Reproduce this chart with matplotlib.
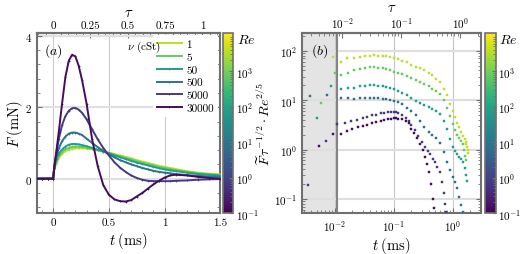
import numpy as np
import matplotlib.pyplot as plt
from matplotlib import ticker
from matplotlib.colors import LogNorm
import matplotlib.cm as cm

plt.rcParams.update({
    "font.family": "serif",
    "font.serif": ["cmr10"],
    "mathtext.fontset": "cm",
    "axes.formatter.use_mathtext": True,
    "axes.unicode_minus": False,
    "font.size": 8,
    "xtick.labelsize": 8,
    "ytick.labelsize": 8,
})

# viscosities and Reynolds numbers
nu = [1, 5, 50, 500, 5000, 30000]
Re = [3700, 740, 74, 7.4, 0.74, 0.14]
T0 = 1.34  # ms, tau = t / T0

# (a) force vs time
t_a = [-0.15, -0.1, -0.05, 0, 0.01, 0.03, 0.05, 0.08, 0.11, 0.14, 0.17, 0.2, 0.23, 0.26,
       0.3, 0.35, 0.4, 0.45, 0.5, 0.55, 0.6, 0.65, 0.7, 0.75, 0.8, 0.85, 0.9, 0.95, 1.0,
       1.05, 1.1, 1.2, 1.3, 1.4, 1.5]
F_1 = [0, 0, 0, 0, 0.25, 0.45, 0.58, 0.7, 0.77, 0.81, 0.83, 0.85, 0.85, 0.85, 0.84, 0.82,
       0.79, 0.76, 0.73, 0.69, 0.65, 0.61, 0.57, 0.52, 0.48, 0.44, 0.4, 0.36, 0.33, 0.3,
       0.27, 0.21, 0.17, 0.14, 0.12]
F_5 = [0, 0, 0, 0, 0.28, 0.5, 0.63, 0.75, 0.82, 0.86, 0.89, 0.9, 0.9, 0.89, 0.87, 0.84,
       0.8, 0.76, 0.72, 0.67, 0.63, 0.58, 0.54, 0.49, 0.45, 0.41, 0.37, 0.33, 0.3, 0.27,
       0.24, 0.19, 0.15, 0.12, 0.1]
F_50 = [0, 0, 0, 0, 0.3, 0.55, 0.7, 0.82, 0.9, 0.95, 0.97, 0.97, 0.96, 0.94, 0.91, 0.86,
        0.81, 0.76, 0.71, 0.65, 0.6, 0.55, 0.5, 0.45, 0.41, 0.37, 0.33, 0.29, 0.26, 0.23,
        0.21, 0.17, 0.13, 0.11, 0.09]
F_500 = [0, 0, 0, 0, 0.35, 0.65, 0.85, 1.05, 1.18, 1.26, 1.29, 1.29, 1.26, 1.22, 1.12, 1.0,
         0.88, 0.78, 0.68, 0.6, 0.52, 0.46, 0.4, 0.35, 0.3, 0.26, 0.22, 0.19, 0.17, 0.15,
         0.13, 0.1, 0.08, 0.06, 0.05]
F_5000 = [0, 0, 0, 0, 0.35, 0.75, 1.1, 1.5, 1.75, 1.9, 1.97, 1.98, 1.93, 1.84, 1.66, 1.38,
          1.1, 0.86, 0.65, 0.46, 0.31, 0.19, 0.09, 0.02, -0.03, -0.06, -0.07, -0.07, -0.07,
          -0.07, -0.06, -0.05, -0.03, -0.02, -0.01]
F_30000 = [0, 0, 0, 0, 0.3, 0.8, 1.3, 2.1, 2.85, 3.3, 3.47, 3.42, 3.15, 2.75, 2.1, 1.1,
           0.35, -0.18, -0.45, -0.58, -0.63, -0.64, -0.6, -0.5, -0.4, -0.28, -0.16, -0.06,
           0.03, 0.09, 0.11, 0.09, 0.05, 0.02, 0.0]
F_all = [F_1, F_5, F_50, F_500, F_5000, F_30000]

# (b) rescaled force vs time (log-log)
tb_1 = [0.0093, 0.013, 0.0165, 0.021, 0.027, 0.033, 0.04, 0.047, 0.055, 0.065, 0.075, 0.088,
        0.1, 0.12, 0.14, 0.17, 0.2, 0.24, 0.28, 0.33, 0.39, 0.45, 0.52, 0.6, 0.7, 0.8, 0.9,
        1.0, 1.1, 1.2, 1.3, 1.4, 1.5, 1.6, 1.65, 1.7, 1.75, 1.78, 1.8]
vb_1 = [76, 58, 72, 70, 75, 80, 80, 82, 80, 79, 77, 74, 71, 67, 63, 58, 52, 48, 44, 41, 36,
        32, 27, 23, 17, 12.5, 8.5, 6.0, 4.5, 3.5, 2.8, 2.3, 1.9, 1.6, 1.4, 1.3, 1.1, 1.0, 0.85]
tb_5 = [0.006, 0.01, 0.013, 0.017, 0.021, 0.027, 0.033, 0.04, 0.047, 0.055, 0.065, 0.075,
        0.088, 0.1, 0.12, 0.14, 0.17, 0.2, 0.24, 0.28, 0.33, 0.39, 0.45, 0.52, 0.6, 0.7, 0.8,
        0.9, 1.0, 1.1, 1.2, 1.3, 1.4, 1.5, 1.55, 1.6, 1.65]
vb_5 = [8.7, 35, 33, 36, 40, 42, 45, 46, 46, 45, 44, 42, 40, 38, 36, 34, 31, 28, 25.5, 23,
        21, 19, 17, 15.5, 13.5, 10, 7, 4.8, 3.3, 2.5, 2.0, 1.7, 1.5, 1.3, 1.0, 0.75, 0.6]
tb_50 = [0.005, 0.0086, 0.013, 0.017, 0.021, 0.027, 0.033, 0.04, 0.047, 0.055, 0.065, 0.075,
         0.088, 0.1, 0.12, 0.14, 0.17, 0.2, 0.24, 0.28, 0.33, 0.39, 0.45, 0.52, 0.6, 0.7, 0.8,
         0.9, 1.0, 1.1, 1.2, 1.3, 1.4, 1.5, 1.6, 1.7, 1.75]
vb_50 = [4.4, 19, 17, 18, 18, 19, 19.5, 20, 20, 19.5, 19, 18.5, 18, 17, 15.5, 14, 12.5, 11,
         9.8, 8.8, 8.0, 7.2, 6.6, 6.0, 5.3, 3.8, 2.6, 1.6, 1.15, 0.95, 0.82, 0.72, 0.63, 0.55,
         0.42, 0.3, 0.23]
tb_500 = [0.0038, 0.0076, 0.013, 0.017, 0.021, 0.027, 0.033, 0.04, 0.047, 0.055, 0.065, 0.075,
          0.088, 0.1, 0.12, 0.14, 0.17, 0.2, 0.24, 0.28, 0.33, 0.39, 0.45, 0.52, 0.6, 0.7, 0.8,
          0.9, 1.0, 1.1, 1.2, 1.3, 1.4, 1.5]
vb_500 = [12, 13, 11, 11, 10.8, 11, 11, 11.2, 11, 11, 10.8, 10.5, 10.2, 9.8, 9, 8.2, 7, 6,
          4.9, 3.7, 2.8, 2.3, 2.0, 1.7, 1.35, 0.9, 0.55, 0.38, 0.28, 0.22, 0.17, 0.11, 0.075,
          0.055]
tb_5000 = [0.0036, 0.0073, 0.0112, 0.015, 0.019, 0.024, 0.03, 0.036, 0.043, 0.05, 0.06, 0.07,
           0.08, 0.09, 0.1, 0.11, 0.12, 0.14, 0.16, 0.18, 0.2, 0.23, 0.26, 0.3, 0.34, 0.38,
           0.42, 0.46, 0.5, 0.55, 0.6, 0.65, 0.7, 0.75, 0.78]
vb_5000 = [0.19, 1.5, 3.3, 3.4, 3.7, 4.0, 4.3, 4.6, 4.9, 5.1, 5.4, 5.6, 5.7, 5.8, 5.8, 5.7,
           5.5, 5.0, 4.4, 3.8, 3.2, 2.5, 1.9, 1.4, 1.15, 0.95, 0.8, 0.65, 0.55, 0.45, 0.35,
           0.22, 0.13, 0.08, 0.055]
tb_30000 = [0.0054, 0.0093, 0.013, 0.016, 0.02, 0.025, 0.03, 0.036, 0.043, 0.05, 0.06, 0.07,
            0.08, 0.09, 0.1, 0.11, 0.12, 0.14, 0.16, 0.18, 0.2, 0.22, 0.25, 0.28, 0.31, 0.34,
            0.37, 0.4, 0.43, 0.46, 0.48]
vb_30000 = [1.2, 2.1, 2.1, 2.4, 2.6, 2.8, 3.0, 3.2, 3.4, 3.6, 3.8, 4.0, 4.15, 4.25, 4.3, 4.3,
            4.25, 4.1, 3.8, 3.4, 2.6, 2.2, 1.75, 1.3, 1.0, 0.7, 0.5, 0.35, 0.2, 0.1, 0.065]
tb_all = [tb_1, tb_5, tb_50, tb_500, tb_5000, tb_30000]
vb_all = [vb_1, vb_5, vb_50, vb_500, vb_5000, vb_30000]
t_cut = 0.0112

norm = LogNorm(vmin=0.1, vmax=1.2e4)
cmap = plt.get_cmap("viridis")
spine_c = "#707070"

fig = plt.figure(figsize=(5.25, 2.55), dpi=100)
ax1 = fig.add_axes([0.0705, 0.161, 0.349, 0.706])
cax1 = fig.add_axes([0.4245, 0.161, 0.020, 0.706])
ax2 = fig.add_axes([0.575, 0.161, 0.341, 0.706])
cax2 = fig.add_axes([0.924, 0.161, 0.020, 0.706])


def style(ax):
    for s in ax.spines.values():
        s.set_color(spine_c)
        s.set_linewidth(1.5)
    ax.tick_params(which="both", direction="in", color=spine_c, right=True)
    ax.tick_params(which="major", length=3.5, width=0.8)
    ax.tick_params(which="minor", length=2, width=0.6)


# ---- panel (a)
for i in range(len(nu)):
    ax1.plot(t_a, F_all[i], color=cmap(norm(Re[i])), lw=1.4, marker="+", ms=1.5, mew=0.5,
             label=str(nu[i]), zorder=3)
ax1.set_xlim(-0.145, 1.5)
ax1.set_ylim(-0.96, 4.08)
ax1.set_xticks([0, 0.5, 1, 1.5])
ax1.set_xticklabels(["0", "0.5", "1", "1.5"])
ax1.set_yticks([0, 2, 4])
ax1.xaxis.set_minor_locator(ticker.MultipleLocator(0.1))
ax1.yaxis.set_minor_locator(ticker.MultipleLocator(0.4))
ax1.grid(True, axis="x", color="#cccccc", lw=0.8)
ax1.grid(True, axis="y", color="#e0e0e0", lw=1.5)
ax1.set_axisbelow(True)
style(ax1)
ax1.set_xlabel(r"$t\;(\mathrm{ms})$", fontsize=10.5, labelpad=2)
ax1.set_ylabel(r"$F\;(\mathrm{mN})$", fontsize=10.5, labelpad=0)
ax1.text(0.04, 0.955, r"$(a)$", transform=ax1.transAxes, fontsize=10, va="top")
leg = ax1.legend(loc="upper right", bbox_to_anchor=(1.0, 1.0), fontsize=8, frameon=True,
                 facecolor="white", edgecolor="none", framealpha=1, handlelength=2.3,
                 labelspacing=0.28, borderpad=0.35, handletextpad=0.4, borderaxespad=0.2)
leg.set_zorder(5)
ax1.text(0.675, 0.925, r"$\nu$ (cSt)", transform=ax1.transAxes, fontsize=8, ha="right",
         va="center", zorder=10)
top1 = ax1.secondary_xaxis("top", functions=(lambda t: t / T0, lambda tau: tau * T0))
top1.set_xticks([0, 0.25, 0.5, 0.75, 1])
top1.set_xticklabels(["0", "0.25", "0.5", "0.75", "1"])
top1.xaxis.set_minor_locator(ticker.MultipleLocator(0.05))
top1.tick_params(which="both", direction="in", color=spine_c, pad=2)
top1.tick_params(which="minor", length=2)
top1.spines["top"].set_color(spine_c)
top1.spines["top"].set_linewidth(1.5)
top1.set_xlabel(r"$\tau$", fontsize=10.5, labelpad=3)

# ---- panel (b)
ax2.set_xscale("log")
ax2.set_yscale("log")
ax2.set_xlim(0.0028, 3.0)
ax2.set_ylim(0.052, 230)
ax2.axvspan(0.0028, t_cut, color="#e4e4e4", zorder=0)
ax2.axvline(t_cut, color="#7a7a7a", lw=1.3, zorder=1)
for i in range(len(nu)):
    ax2.plot(tb_all[i], vb_all[i], ls="none", marker="s", ms=1.6, mew=0.3,
             color=cmap(norm(Re[i])), zorder=3)
ax2.grid(True, which="major", axis="x", color="#c8c8c8", lw=0.8)
ax2.grid(True, which="major", axis="y", color="#dedede", lw=1.5)
ax2.set_axisbelow(True)
style(ax2)
ax2.set_xlabel(r"$t\;(\mathrm{ms})$", fontsize=10.5, labelpad=2)
ax2.set_ylabel(r"$\widetilde{F}\,\tau^{-1/2}\cdot Re^{2/5}$", fontsize=10, labelpad=1)
ax2.text(0.05, 0.955, r"$(b)$", transform=ax2.transAxes, fontsize=10, va="top")
top2 = ax2.secondary_xaxis("top", functions=(lambda t: t / T0, lambda tau: tau * T0))
top2.set_xticks([0.01, 0.1, 1])
top2.tick_params(which="both", direction="in", color=spine_c, pad=2)
top2.spines["top"].set_color(spine_c)
top2.spines["top"].set_linewidth(1.5)
top2.set_xlabel(r"$\tau$", fontsize=10.5, labelpad=3)

# ---- colorbars
for cax in (cax1, cax2):
    cb = fig.colorbar(cm.ScalarMappable(norm=norm, cmap=cmap), cax=cax)
    cb.outline.set_edgecolor(spine_c)
    cb.outline.set_linewidth(1.2)
    cb.set_ticks([0.1, 1, 10, 100, 1000])
    cax.tick_params(which="both", direction="in", color=spine_c, pad=2)
    cax.tick_params(which="major", length=3)
    cax.text(1.3, 1.0, r"$Re$", transform=cax.transAxes, fontsize=10, va="top")

fig.savefig("out.png", dpi=100)
